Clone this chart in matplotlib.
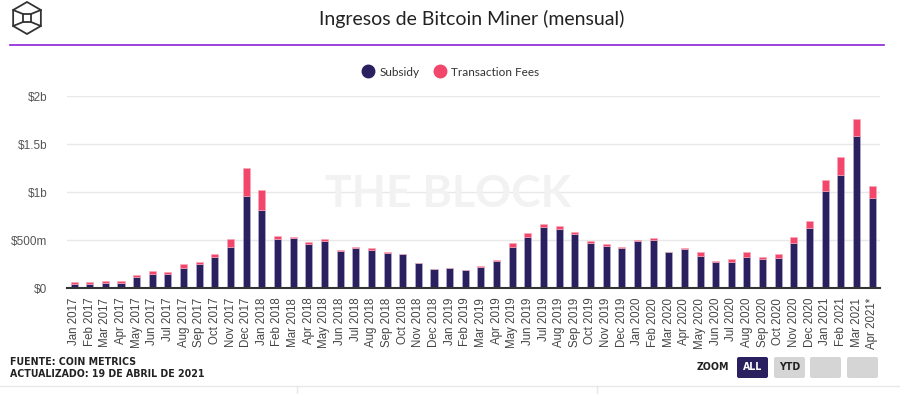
import matplotlib
matplotlib.use("Agg")
import matplotlib.pyplot as plt
import numpy as np
from matplotlib import font_manager
from matplotlib.lines import Line2D
from matplotlib.patches import FancyBboxPatch, Polygon, Rectangle

# Monthly miner revenue, millions of USD
month_names = ["Jan", "Feb", "Mar", "Apr", "May", "Jun",
               "Jul", "Aug", "Sep", "Oct", "Nov", "Dec"]
years = [2017, 2018, 2019, 2020, 2021]
month_labels = [f"{m} {y}" for y in years for m in month_names][:52]
month_labels[-1] = month_labels[-1] + "*"

subsidy = [46, 46, 56, 56, 113, 141, 151, 204, 246, 320, 426, 954,
           817, 512, 524, 458, 493, 384, 415, 394, 366, 352, 257, 194,
           204, 183, 215, 278, 426, 532, 637, 616, 567, 472, 440, 419,
           489, 500, 377, 405, 331, 271, 271, 320, 299, 310, 468, 627,
           1007, 1176, 1588, 933]
transaction_fees = [17, 14, 18, 14, 21, 39, 14, 49, 29, 36, 81, 299,
                    204, 25, 11, 17, 14, 17, 7, 18, 7, 7, 7, 7,
                    7, 7, 17, 14, 39, 38, 28, 28, 14, 14, 14, 3,
                    14, 17, 3, 7, 39, 11, 32, 50, 28, 49, 60, 66,
                    123, 193, 172, 130]

y_ticks = [0, 500, 1000, 1500, 2000]
y_tick_labels = ["$0", "$500m", "$1b", "$1.5b", "$2b"]

NAVY = "#2a2060"
PINK = "#f2466b"
W, H = 900, 394

installed = {f.name for f in font_manager.fontManager.ttflist}
if "Liberation Sans Narrow" in installed:
    cond = dict(family="Liberation Sans Narrow", weight="bold")
else:
    cond = dict(family="DejaVu Sans", stretch="condensed", weight="bold")

fig = plt.figure(figsize=(W / 100, H / 100), dpi=100)

# main chart axes, placed in pixel terms
left, right, top, bottom = 67, 880, 96, 288
ax = fig.add_axes([left / W, 1 - bottom / H, (right - left) / W, (bottom - top) / H])

x = np.arange(len(subsidy))
ax.bar(x, subsidy, width=0.45, color=NAVY, edgecolor="#b9b3d3", linewidth=0.4,
       zorder=3, label="Subsidy")
ax.bar(x, transaction_fees, bottom=subsidy, width=0.45, color=PINK,
       edgecolor="#f9a9bb", linewidth=0.4, zorder=3, label="Transaction Fees")

ax.set_xlim(-0.45, len(x) - 0.5)
ax.set_ylim(0, 2000)
ax.set_yticks(y_ticks)
ax.set_yticklabels(y_tick_labels, family="Liberation Sans", fontsize=8.5, color="#555555")
ax.set_xticks(x)
ax.set_xticklabels(month_labels, rotation=90, family="Liberation Sans",
                   fontsize=8.3, color="#444444")
ax.tick_params(axis="both", length=0)
ax.tick_params(axis="y", pad=14)
ax.tick_params(axis="x", pad=7)
ax.grid(axis="y", color="#e8e8e8", linewidth=1, zorder=0)
for side in ["top", "right", "left"]:
    ax.spines[side].set_visible(False)
ax.spines["bottom"].set_color("#333333")
ax.spines["bottom"].set_linewidth(1.5)
ax.spines["bottom"].set_zorder(4)

# watermark
fig.text(448 / W, 1 - 194 / H, "THE BLOCK", ha="center", va="center",
         family="Lato", weight="bold", fontsize=32, color="#f2f2f2", zorder=0)

# title and legend
fig.text(472 / W, 1 - 19 / H, "Ingresos de Bitcoin Miner (mensual)", ha="center",
         va="center", family="Lato", fontsize=14, color="#222222")

handles = [Line2D([], [], marker="o", linestyle="", markersize=9, color=NAVY),
           Line2D([], [], marker="o", linestyle="", markersize=9, color=PINK)]
fig.legend(handles, ["Subsidy", "Transaction Fees"], loc="center",
           bbox_to_anchor=(450 / W, 1 - 72 / H), ncol=2, frameon=False,
           prop=dict(family="Lato", size=8.5), handletextpad=0.35,
           columnspacing=1.1, handlelength=1.2, labelcolor="#333333")

# overlay for header/footer decorations in pixel coords
ov = fig.add_axes([0, 0, 1, 1], zorder=-1)
ov.set_xlim(0, W)
ov.set_ylim(H, 0)
ov.axis("off")

ov.plot([10, 884], [45, 45], color="#8d1fd8", linewidth=1.2)

# logo: cube outline
cx, cy, r = 27, 18, 16
ang = np.deg2rad([90, 30, -30, -90, -150, 150])
hx = cx + r * np.cos(ang)
hy = cy - r * np.sin(ang)
ov.add_patch(Polygon(np.column_stack([hx, hy]), closed=True, fill=False,
                     edgecolor="#333333", linewidth=1.3))
s = 4
ov.add_patch(Rectangle((cx - s, cy - s), 2 * s, 2 * s, fill=False,
                       edgecolor="#333333", linewidth=1.3))
for vx, vy, qx, qy in [(hx[5], hy[5], cx - s, cy - s), (hx[1], hy[1], cx + s, cy - s),
                       (hx[4], hy[4], cx - s, cy + s), (hx[2], hy[2], cx + s, cy + s)]:
    ov.plot([vx, qx], [vy, qy], color="#333333", linewidth=1.3)

# footer
fig.text(10 / W, 1 - 362 / H, "FUENTE: COIN METRICS", ha="left", va="center",
         fontsize=7.6, color="#222222", **cond)
fig.text(10 / W, 1 - 374 / H, "ACTUALIZADO: 19 DE ABRIL DE 2021", ha="left",
         va="center", fontsize=7.6, color="#222222", **cond)

fig.text(713 / W, 1 - 367.5 / H, "ZOOM", ha="center", va="center",
         fontsize=7.6, color="#222222", **cond)
buttons = [(737, "ALL", NAVY, "white"), (774, "YTD", "#d5d5d5", "#222222"),
           (810, "", "#d5d5d5", "#222222"), (847, "", "#d5d5d5", "#222222")]
for bx, label, fc, tc in buttons:
    ov.add_patch(FancyBboxPatch((bx, 357), 31, 21, boxstyle="round,pad=0,rounding_size=2",
                                facecolor=fc, edgecolor="none"))
    if label:
        ov.text(bx + 15.5, 367.5, label, ha="center", va="center",
                fontsize=7.6, color=tc, **cond)

ov.plot([0, W], [385.5, 385.5], color="#e8e8e8", linewidth=1)
ov.plot([297, 297], [385.5, H], color="#e8e8e8", linewidth=1)
ov.plot([597, 597], [385.5, H], color="#e8e8e8", linewidth=1)

fig.savefig("out.png", dpi=100)
